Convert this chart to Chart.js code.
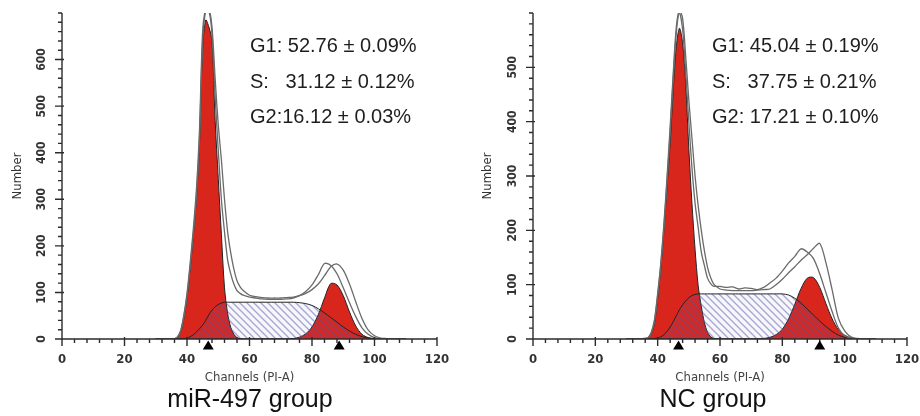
<!DOCTYPE html>
<html>
<head>
<meta charset="utf-8">
<script src="https://cdn.jsdelivr.net/npm/chart.js@4.4.1/dist/chart.umd.min.js"></script>
<style>
  body { margin: 0; background: #fff; width: 920px; height: 416px; overflow: hidden; position: relative;
         font-family: "Liberation Sans", Arial, sans-serif; }
  .panel { position: absolute; top: 0; width: 460px; height: 416px; }
  .panel canvas { display: block; }
  .stats { position: absolute; top: 28px; font-size: 20px; line-height: 35.5px; color: #1e1e1e; white-space: pre; }
  .group { position: absolute; top: 383px; width: 240px; text-align: center; font-size: 25px; line-height: 30px; color: #111; }
</style>
</head>
<body>
<div class="panel" style="left:0">
  <canvas id="mirChart" width="460" height="416"></canvas>
  <div class="stats" id="mirStats" style="left:250px"></div>
  <div class="group" style="left:130px">miR-497 group</div>
</div>
<div class="panel" style="left:460px">
  <canvas id="ncChart" width="460" height="416"></canvas>
  <div class="stats" id="ncStats" style="left:252px"></div>
  <div class="group" style="left:133px">NC group</div>
</div>

<script>
// channel grid (PI-A)
const channels = [30, 34, 36, 37, 38, 39, 40, 41, 42, 43, 44, 45, 46, 47, 48, 49, 50, 51, 52, 53, 54, 55, 56, 57, 58,
  60, 62, 64, 66, 68, 70, 72, 74, 76, 78, 80, 82, 84, 86, 88, 90, 92, 94, 96, 98, 100, 102, 104, 106, 110];

// miR-497 group
const mirG1 = [0, 0, 0, 3, 15, 45, 88, 150, 220, 300, 420, 625, 685, 670, 640, 470, 345, 225, 110, 55, 25, 10, 3, 1, 0,
  0, 0, 0, 0, 0, 0, 0, 0, 0, 0, 0, 0, 0, 0, 0, 0, 0, 0, 0, 0, 0, 0, 0, 0, 0];
const mirS = [0, 0, 0, 0, 0, 1, 2, 5, 9, 15, 22, 30, 40, 52, 62, 69, 74, 77, 79, 79, 79, 79, 79, 79, 79,
  79, 79, 79, 79, 79, 79, 79, 79, 78, 76, 72, 65, 56, 46, 36, 26, 17, 10, 5, 2, 0, 0, 0, 0, 0];
const mirG2 = [0, 0, 0, 0, 0, 0, 0, 0, 0, 0, 0, 0, 0, 0, 0, 0, 0, 0, 0, 0, 0, 0, 0, 0, 0,
  0, 0, 0, 0, 0, 0, 0, 1, 4, 11, 26, 52, 88, 119, 116, 93, 58, 28, 10, 3, 1, 0, 0, 0, 0];
const mirDataA = [0, 0, 1, 4, 17, 48, 92, 155, 225, 305, 430, 640, 705, 705, 655, 520, 406, 300, 230, 170, 140, 118, 104, 98, 94,
  90, 88, 86, 85, 85, 85, 86, 88, 93, 102, 116, 138, 162, 158, 140, 110, 78, 48, 24, 10, 3, 1, 0, 0, 0];
const mirDataB = [0, 0, 1, 5, 19, 52, 98, 162, 235, 320, 450, 660, 710, 710, 670, 560, 460, 385, 300, 230, 185, 150, 125, 112, 104,
  94, 91, 89, 88, 88, 88, 89, 90, 93, 98, 106, 118, 136, 155, 161, 148, 118, 80, 44, 19, 7, 2, 1, 0, 0];
const mirMarkers = [46.8, 88.7];
const mirStatsText = ["G1: 52.76 \u00b1 0.09%", "S:   31.12 \u00b1 0.12%", "G2:16.12 \u00b1 0.03%"];

// NC group
const ncG1 = [0, 0, 0, 2, 10, 30, 75, 130, 200, 280, 360, 460, 540, 572, 545, 470, 350, 250, 165, 98, 60, 30, 12, 4, 1,
  0, 0, 0, 0, 0, 0, 0, 0, 0, 0, 0, 0, 0, 0, 0, 0, 0, 0, 0, 0, 0, 0, 0, 0, 0];
const ncS = [0, 0, 0, 0, 0, 1, 2, 4, 8, 14, 22, 32, 43, 54, 63, 70, 76, 80, 82, 83, 83, 83, 83, 83, 83,
  83, 83, 83, 83, 83, 83, 83, 83, 83, 83, 83, 81, 75, 66, 55, 44, 33, 23, 14, 7, 3, 1, 0, 0, 0];
const ncG2 = [0, 0, 0, 0, 0, 0, 0, 0, 0, 0, 0, 0, 0, 0, 0, 0, 0, 0, 0, 0, 0, 0, 0, 0, 0,
  0, 0, 0, 0, 0, 0, 0, 1, 3, 8, 18, 37, 64, 93, 112, 113, 95, 65, 37, 17, 7, 2, 0, 0, 0];
const ncDataA = [0, 0, 1, 3, 12, 34, 80, 135, 205, 290, 380, 480, 565, 600, 570, 490, 400, 315, 250, 205, 160, 135, 112, 102, 97,
  97, 95, 96, 92, 94, 93, 91, 95, 103, 112, 125, 140, 152, 166, 160, 148, 120, 85, 50, 20, 6, 2, 0, 0, 0];
const ncDataB = [0, 0, 1, 3, 13, 36, 84, 140, 212, 298, 390, 490, 575, 605, 590, 520, 440, 370, 300, 245, 200, 162, 132, 113, 101,
  92, 90, 89, 89, 89, 89, 90, 91, 92, 100, 110, 122, 133, 145, 155, 167, 176, 140, 90, 38, 15, 4, 1, 0, 0];
const ncMarkers = [46.7, 92];
const ncStatsText = ["G1: 45.04 \u00b1 0.19%", "S:   37.75 \u00b1 0.21%", "G2: 17.21 \u00b1 0.10%"];

const xTickStep = 4;
const yTickStep = 20;

const RED = "#d8261d";
const tickFont = '"Liberation Sans Narrow", "DejaVu Sans Condensed", "Liberation Sans", sans-serif';

function points(values) {
  return channels.map((c, i) => ({ x: c, y: values[i] }));
}

function makeHatch(ctx) {
  const c = document.createElement("canvas");
  c.width = 7;
  c.height = 7;
  const g = c.getContext("2d");
  g.fillStyle = "rgba(90,90,170,0.05)";
  g.fillRect(0, 0, 7, 7);
  g.strokeStyle = "rgba(80,85,170,0.5)";
  g.lineWidth = 1.3;
  g.beginPath();
  g.moveTo(-1, -1); g.lineTo(8, 8);
  g.moveTo(-1, 6); g.lineTo(1, 8);
  g.moveTo(6, -1); g.lineTo(8, 1);
  g.stroke();
  return ctx.createPattern(c, "repeat");
}

// draws axis lines, major/minor ticks, tick labels and the peak markers
const axisDecor = {
  id: "axisDecor",
  afterDatasetsDraw(chart, args, opts) {
    const { ctx, chartArea: a } = chart;
    const x = chart.scales.x;
    const y = chart.scales.y;
    ctx.save();
    ctx.strokeStyle = "#2b2b2b";
    ctx.lineWidth = 1.4;
    ctx.beginPath();
    ctx.moveTo(a.left, a.top);
    ctx.lineTo(a.left, a.bottom + 3);
    ctx.moveTo(a.left - 3, a.bottom);
    ctx.lineTo(a.right, a.bottom);
    for (let v = x.min; v <= x.max; v += xTickStep) {
      const px = x.getPixelForValue(v);
      const major = v % 20 === 0;
      ctx.moveTo(px, a.bottom - (major ? 2 : 0));
      ctx.lineTo(px, a.bottom + (major ? 7 : 4));
    }
    for (let v = y.min; v <= y.max; v += yTickStep) {
      const py = y.getPixelForValue(v);
      const major = v % 100 === 0 && v < y.max;
      ctx.moveTo(a.left - (major ? 7 : 4), py);
      ctx.lineTo(a.left + (major ? 2 : 0), py);
    }
    ctx.stroke();

    ctx.fillStyle = "#333";
    ctx.font = "bold 13px " + tickFont;
    ctx.textAlign = "center";
    ctx.textBaseline = "middle";
    for (let v = x.min; v <= x.max; v += 20) {
      ctx.fillText(String(v), x.getPixelForValue(v), a.bottom + 21);
    }
    ctx.font = "bold 12px " + tickFont;
    for (let v = y.min; v < y.max; v += 100) {
      ctx.save();
      ctx.translate(a.left - 20.5, y.getPixelForValue(v));
      ctx.rotate(-Math.PI / 2);
      ctx.fillText(String(v), 0, 0);
      ctx.restore();
    }

    ctx.fillStyle = "#000";
    opts.markers.forEach((m) => {
      const px = x.getPixelForValue(m);
      ctx.beginPath();
      ctx.moveTo(px, a.bottom + 1.5);
      ctx.lineTo(px - 5.5, a.bottom + 10.5);
      ctx.lineTo(px + 5.5, a.bottom + 10.5);
      ctx.closePath();
      ctx.fill();
    });
    ctx.restore();
  },
};

function makeChart(id, cfg) {
  const canvas = document.getElementById(id);
  const ctx = canvas.getContext("2d");
  const hatch = makeHatch(ctx);
  const curve = { fill: false, pointRadius: 0, tension: 0.3 };

  return new Chart(ctx, {
    type: "line",
    data: {
      datasets: [
        { ...curve, label: "Data A", data: points(cfg.dataA), borderColor: "#6a6a6a", borderWidth: 1.3 },
        { ...curve, label: "Data B", data: points(cfg.dataB), borderColor: "#6a6a6a", borderWidth: 1.3 },
        { ...curve, label: "S", data: points(cfg.s), fill: "origin", backgroundColor: hatch, borderColor: "#222", borderWidth: 1 },
        { ...curve, label: "G2", data: points(cfg.g2), fill: "origin", backgroundColor: RED, borderColor: "#222", borderWidth: 1 },
        { ...curve, label: "G1", data: points(cfg.g1), fill: "origin", backgroundColor: RED, borderColor: "#222", borderWidth: 1 },
      ],
    },
    options: {
      responsive: false,
      animation: false,
      layout: { padding: { top: 13, right: cfg.padRight, left: 0, bottom: 0 } },
      plugins: {
        legend: { display: false },
        tooltip: { enabled: false },
        axisDecor: { markers: cfg.markers },
      },
      scales: {
        x: {
          type: "linear",
          min: 0,
          max: 120,
          grid: { display: false },
          border: { display: false },
          ticks: { display: false },
          title: {
            display: true,
            text: "Channels (PI-A)",
            color: "#444",
            font: { size: 13, family: tickFont },
            padding: { top: 0, bottom: 31 },
          },
          afterFit: (scale) => { scale.height = 77; },
        },
        y: {
          type: "linear",
          min: 0,
          max: cfg.yMax,
          grid: { display: false },
          border: { display: false },
          ticks: { display: false },
          title: {
            display: true,
            text: "Number",
            color: "#333",
            font: { size: 13, family: tickFont },
            padding: { top: cfg.titlePad, bottom: 0 },
          },
          afterFit: (scale) => { scale.width = cfg.axisWidth; },
        },
      },
    },
    plugins: [axisDecor],
  });
}

makeChart("mirChart", {
  g1: mirG1, s: mirS, g2: mirG2, dataA: mirDataA, dataB: mirDataB,
  markers: mirMarkers, yMax: 700, axisWidth: 62, padRight: 23, titlePad: 10,
});
makeChart("ncChart", {
  g1: ncG1, s: ncS, g2: ncG2, dataA: ncDataA, dataB: ncDataB,
  markers: ncMarkers, yMax: 600, axisWidth: 73, padRight: 13, titlePad: 20,
});

document.getElementById("mirStats").textContent = mirStatsText.join("\n");
document.getElementById("ncStats").textContent = ncStatsText.join("\n");
</script>
</body>
</html>
